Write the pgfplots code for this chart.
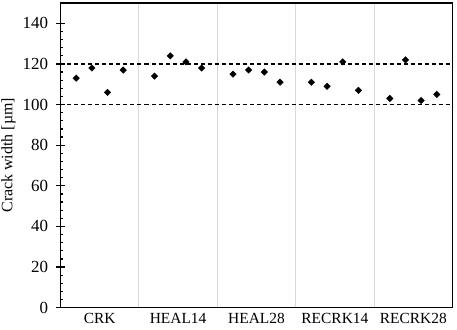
\documentclass[border=0pt]{standalone}
\usepackage{pgfplots}
\pgfplotsset{compat=1.18}
\usepackage{fontspec}
\setmainfont{Liberation Serif}
\begin{document}
\begin{tikzpicture}
\begin{axis}[
  scale only axis,
  width=392bp, height=304.7bp,
  xmin=0, xmax=5, ymin=0, ymax=150,
  axis line style={line width=1.2bp},
  ytick={0,20,...,140},
  minor y tick num=4,
  ytick pos=left,
  xtick={0.5,1.5,2.5,3.5,4.5},
  xticklabels={CRK,HEAL14,HEAL28,RECRK14,RECRK28},
  minor xtick={1,2,3,4},
  xminorgrids=true,
  minor x grid style={line width=1bp, color=black!15},
  x tick style={draw=none},
  y tick style={line width=1.2bp, black},
  tick align=inside,
  major tick length=4.5bp,
  minor tick length=3bp,
  extra y ticks={0,20,...,140},
  extra y tick labels={},
  extra y tick style={tick align=outside, major tick length=4.5bp, ytick pos=left},
  /pgf/number format/assume math mode=true,
  xticklabel style={font=\fontsize{15.5}{18}\selectfont, yshift=-2bp},
  yticklabel style={font=\fontsize{17}{20}\selectfont, xshift=-9bp},
  ylabel={Crack width [µm]},
  ylabel style={font=\fontsize{16}{19}\selectfont, at={(axis description cs:0,0.5)}, anchor=center, yshift=52bp},
  clip=false,
]
\addplot[only marks, mark=square*, mark size=2.3bp, mark options={rotate=45, fill=black, draw=black}] table {
x y
0.2 113
0.4 118
0.6 106
0.8 117
1.2 114
1.4 124
1.6 121
1.8 118
2.2 115
2.4 117
2.6 116
2.8 111
3.2 111
3.4 109
3.6 121
3.8 107
4.2 103
4.4 122
4.6 102
4.8 105
};
\addplot[black, line width=1.2bp, dash pattern=on 4bp off 3bp] coordinates {(0,100) (5,100)};
\addplot[black, line width=1.2bp, dash pattern=on 4bp off 3bp] coordinates {(0,120) (5,120)};
\end{axis}
\pgfresetboundingbox
\path (-60.5bp,-22.3bp) rectangle (396.5bp,307.7bp);
\end{tikzpicture}
\end{document}
